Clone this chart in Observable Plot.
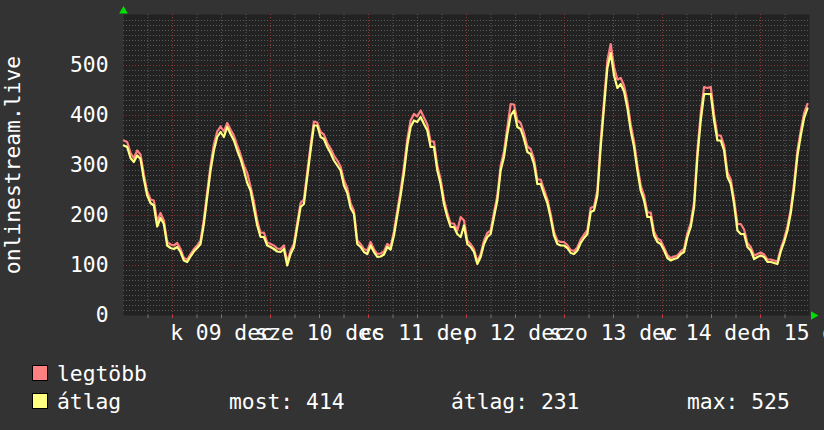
<!DOCTYPE html>
<html><head><meta charset="utf-8">
<script src="https://cdn.jsdelivr.net/npm/d3@7"></script>
<script src="https://cdn.jsdelivr.net/npm/@observablehq/plot@0.6"></script>
<style>
html,body{margin:0;padding:0;background:#333333;}
#wrap{position:relative;width:824px;height:430px;background:#333333;overflow:hidden;font-family:"DejaVu Sans Mono",monospace;font-size:21.33px;line-height:1;color:#ffffff;}
#wrap svg{position:absolute;left:0;top:0;}
.lg{position:absolute;white-space:pre;}
.sw{position:absolute;width:14px;height:14px;border:1px solid #000;}
</style></head><body><div id="wrap"></div>
<script>
// ---- data ----
const seriesNames = ["legtöbb", "átlag"];
const seriesColors = ["#ff8080", "#ffff80"];
const yTitle = "onlinestream.live";
const startTime = "2025-12-08T12:05:00Z";
const stepMinutes = 49;
const domainStart = "2025-12-08T12:00:00Z";
const domainEnd = "2025-12-15T12:00:00Z";

const maxValues = [
350,347,325,315,330,322,282,248,232,230,
188,205,190,147,142,140,145,133,115,112,
123,133,140,150,192,247,300,342,368,378,
368,385,372,360,340,322,300,285,258,228,
190,165,166,146,143,140,134,133,140,107,
130,143,185,225,232,287,340,388,386,367,
362,345,334,320,310,298,270,255,224,210,
150,143,133,130,147,133,123,124,128,143,
138,168,210,250,297,352,390,403,398,410,
396,382,348,348,300,272,232,205,184,184,
170,197,190,150,143,133,108,123,150,165,
170,206,240,300,328,376,423,422,390,385,
365,338,333,313,272,272,252,233,203,167,
150,147,147,141,131,129,136,152,162,170,
215,218,250,350,430,510,543,497,472,475,
460,428,382,348,300,260,240,206,206,168,
154,150,136,121,115,118,120,128,133,165,
185,227,330,405,457,455,457,402,360,360,
340,287,272,232,183,183,172,145,137,120,
123,126,122,112,112,110,108,134,153,178,
213,265,330,370,405,423];

const avgValues = [
340,337,315,307,320,313,273,240,225,220,
178,195,183,140,135,133,137,127,110,107,
118,128,135,143,183,237,290,330,357,367,
357,377,363,350,330,313,290,265,250,215,
180,157,157,140,137,133,128,127,133,100,
123,137,177,217,223,277,330,380,380,357,
353,337,325,310,300,290,260,245,215,203,
143,137,127,123,140,127,117,118,122,137,
132,160,200,240,285,340,377,390,387,397,
383,370,337,337,290,263,223,197,177,177,
163,157,180,143,137,127,103,117,143,157,
163,197,230,290,317,363,400,410,377,373,
353,327,323,303,263,263,243,225,195,160,
143,140,140,135,125,123,130,145,155,163,
207,210,240,337,417,495,525,480,455,463,
448,415,370,337,290,250,230,197,197,160,
147,143,130,115,110,113,115,123,127,157,
177,217,317,390,443,443,443,390,350,350,
330,277,263,223,170,163,163,137,130,113,
117,120,117,107,107,105,103,128,147,170,
205,255,320,360,395,414];

const dayLabels = ["k 09 dec", "sze 10 dec", "cs 11 dec", "p 12 dec", "szo 13 dec", "v 14 dec", "h 15 dec"];
const dayNoons = ["2025-12-09T12:00:00Z", "2025-12-10T12:00:00Z", "2025-12-11T12:00:00Z", "2025-12-12T12:00:00Z", "2025-12-13T12:00:00Z", "2025-12-14T12:00:00Z", "2025-12-15T12:00:00Z"];
const yTicks = [0, 100, 200, 300, 400, 500];
const yMax = 602;
const statLabels = ["most: 414", "átlag: 231", "max: 525"];

// ---- build ----
const FS = 21.33;
const t0 = new Date(startTime).getTime();
const rows = avgValues.map((v, i) => ({t: new Date(t0 + i * stepMinutes * 60000), avg: v, max: maxValues[i]}));
const d0 = new Date(domainStart), d1 = new Date(domainEnd);
const minorY = d3.range(10, yMax, 10).filter(v => v % 100 !== 0);
const majorY = yTicks.filter(v => v > 0);
const minorX = d3.utcHour.every(6).range(d0, d1).filter(d => d.getUTCHours() !== 0 && d > d0);
const majorX = d3.utcDay.range(d0, d1);
const labels = dayNoons.map((d, i) => ({t: new Date(d), label: dayLabels[i]}));

const gridGray = "#5a5a5a";
const gridRed = "#8a3636";

const chart = Plot.plot({
  width: 824,
  height: 345,
  marginLeft: 123,
  marginRight: 15,
  marginTop: 14,
  marginBottom: 30,
  style: {background: "transparent", color: "#ffffff", fontFamily: "DejaVu Sans Mono, monospace", fontSize: FS + "px", overflow: "visible"},
  x: {type: "utc", domain: [d0, d1], axis: null},
  y: {domain: [0, yMax], axis: null},
  marks: [
    Plot.frame({fill: "#222222", stroke: "none"}),
    Plot.ruleY(minorY, {stroke: gridGray, strokeDasharray: "1,2"}),
    Plot.ruleX(minorX, {stroke: gridGray, strokeDasharray: "1,2"}),
    Plot.ruleY(majorY, {stroke: gridRed, strokeDasharray: "1,2"}),
    Plot.ruleX(majorX, {stroke: gridRed, strokeDasharray: "1,2"}),
    Plot.ruleX(minorX, {y1: 0, y2: -6, stroke: "#777"}),
    Plot.ruleX(majorX, {y1: 0, y2: -6, stroke: "#c04040"}),
    Plot.lineY(rows, {x: "t", y: "max", stroke: seriesColors[0], strokeWidth: 2.2}),
    Plot.lineY(rows, {x: "t", y: "avg", stroke: seriesColors[1], strokeWidth: 2.2}),
    Plot.axisY({ticks: yTicks, tickSize: 0, tickPadding: 15, fontSize: FS, anchor: "left", label: null}),
    Plot.text([yTitle], {frameAnchor: "left", dx: -110, rotate: -90, textAnchor: "middle", lineAnchor: "middle", fontSize: FS, fill: "#ffffff"}),
    Plot.text(labels, {x: "t", text: "label", frameAnchor: "bottom", lineAnchor: "bottom", dy: 24, fontSize: FS, fill: "#ffffff"}),
    Plot.dot([0], {frameAnchor: "top-left", symbol: "triangle", r: 3.2, fill: "#00e000", stroke: "none", dy: -3.5}),
    Plot.dot([0], {frameAnchor: "bottom-right", symbol: "triangle", r: 3.2, fill: "#00e000", stroke: "none", rotate: 90, dx: 4})
  ]
});
const wrap = document.getElementById("wrap");
wrap.appendChild(chart);

// ---- legend ----
function add(cls, css, text) {
  const d = document.createElement("div");
  d.className = cls;
  Object.assign(d.style, css);
  if (text != null) d.textContent = text;
  wrap.appendChild(d);
}
add("sw", {left: "32px", top: "365px", background: seriesColors[0]});
add("lg", {left: "57px", top: "363px"}, seriesNames[0]);
add("sw", {left: "32px", top: "393px", background: seriesColors[1]});
add("lg", {left: "57px", top: "391px"}, seriesNames[1]);
add("lg", {left: "229px", top: "391px"}, statLabels[0]);
add("lg", {left: "451px", top: "391px"}, statLabels[1]);
add("lg", {left: "687px", top: "391px"}, statLabels[2]);
</script></body></html>
